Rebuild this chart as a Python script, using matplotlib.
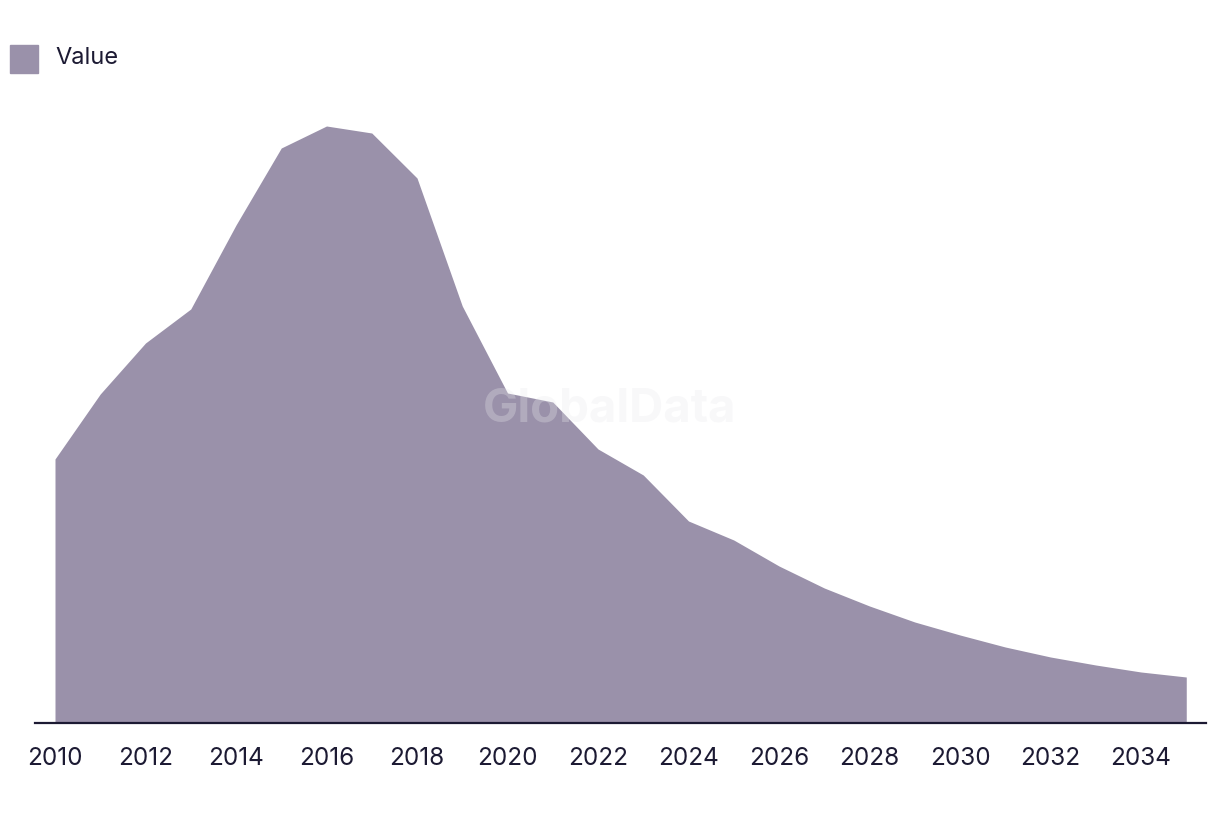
import matplotlib
matplotlib.use("Agg")
import matplotlib.pyplot as plt
from matplotlib.patches import Rectangle

years = list(range(2010, 2036))
values = [264, 329, 380, 414, 498, 575, 597, 590, 545, 417, 330, 321, 274,
          248, 202, 183, 157, 135, 117, 101, 88, 76, 66, 58, 51, 46]
tick_years = list(range(2010, 2036, 2))
series_name = "Value"

fill_color = "#9a91aa"
text_color = "#1c1a33"

plt.rcParams['font.family'] = ['Inter', 'DejaVu Sans']

W, H = 1220, 814
fig = plt.figure(figsize=(W / 100, H / 100), dpi=100)
ax = fig.add_axes([35 / W, 91 / H, 1171 / W, 623 / H])

ax.fill_between(years, values, 0, color=fill_color, linewidth=0)
ax.set_xlim(2009.558, 2035.436)
ax.set_ylim(0, 623)

for s in ["top", "right", "left"]:
    ax.spines[s].set_visible(False)
ax.spines["bottom"].set_color(text_color)
ax.spines["bottom"].set_linewidth(1.6)
ax.set_yticks([])
ax.set_xticks(tick_years)
ax.set_xticklabels([str(y) for y in tick_years], fontsize=17.5, color=text_color)
ax.tick_params(axis="x", length=0, pad=17)

ax.text(0.491, 0.503, "GlobalData", transform=ax.transAxes, ha="center", va="center",
        fontsize=34, fontweight="bold", color="#e8e8ec", alpha=0.3, zorder=3)

# legend
fig.patches.append(Rectangle((10 / W, 1 - 73 / H), 28 / W, 28 / H,
                             transform=fig.transFigure, color=fill_color))
fig.text(55 / W, 1 - 58 / H, series_name, ha="left", va="center",
         fontsize=17, color=text_color)

fig.savefig("out.png", dpi=100)
